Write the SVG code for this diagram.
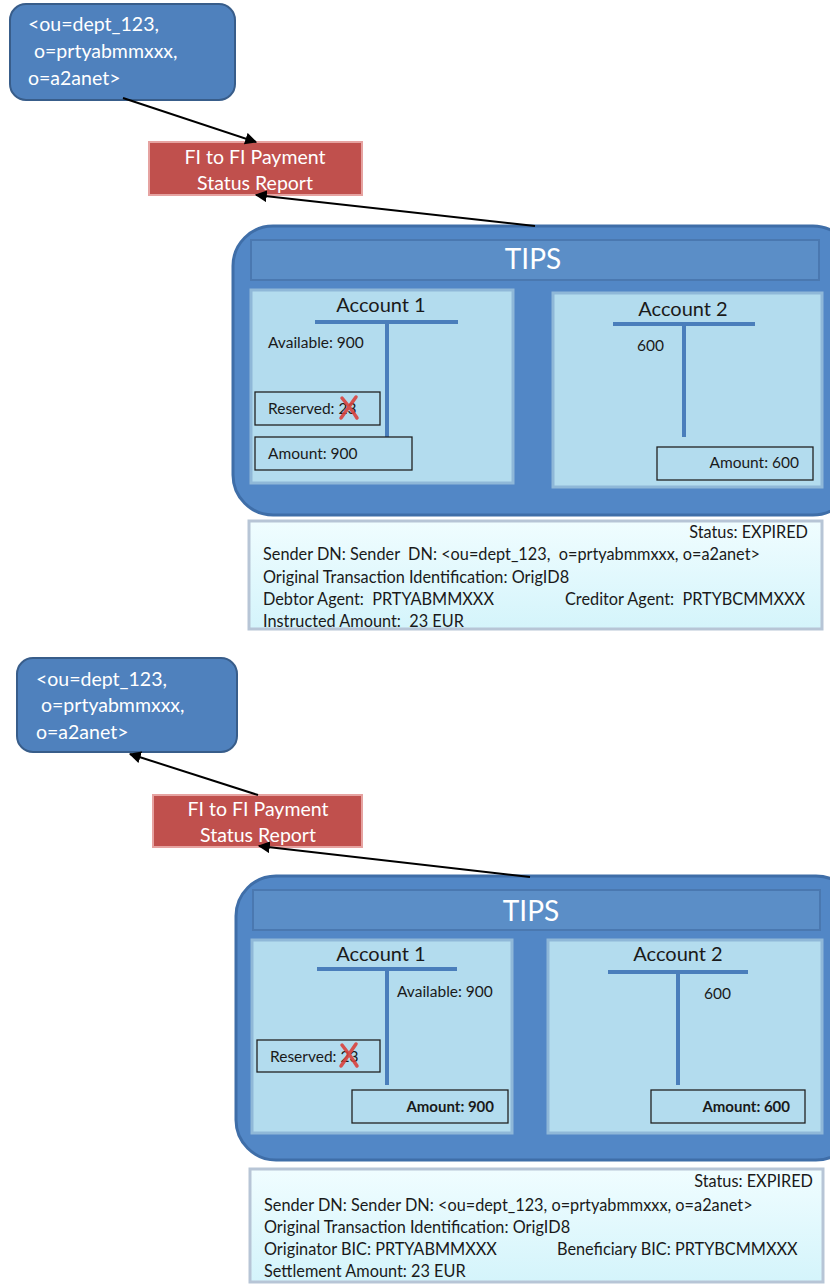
<svg xmlns="http://www.w3.org/2000/svg" width="830" height="1287" viewBox="0 0 830 1287">
<defs>
<style>
text{font-family:Lato,"Liberation Sans",sans-serif}
.dn{fill:#4f81bd;stroke:#385d8a;stroke-width:2}
.dnt{fill:#fff;font-size:19.5px}
.msg{fill:#c0504d;stroke:#e6a3a1;stroke-width:2}
.msgt{fill:#fff;font-size:19.5px;text-anchor:middle}
.tips{fill:#5287c6;stroke:#3f6ea8;stroke-width:3}
.hdr{fill:#5b8ec7;stroke:#4a78b0;stroke-width:2}
.tipst{fill:#fff;font-size:28px;text-anchor:middle}
.acc{fill:#b3dcee;stroke:#8fb8d8;stroke-width:3}
.acct{fill:#1a1a1a;font-size:20px;text-anchor:middle}
.tl{stroke:#4a7ebb;stroke-width:4;fill:none}
.sm{fill:#1a1a1a;font-size:15.5px}
.smb{fill:#1a1a1a;font-size:15px;font-weight:bold;text-anchor:end}
.bx{fill:none;stroke:#222;stroke-width:1.3}
.info{fill:url(#ig);stroke:#b7c5d6;stroke-width:3}
.it{fill:#1a1a1a;font-size:16.3px}
.x{stroke:#d9413c;stroke-width:3.5;fill:none;stroke-linecap:round;opacity:0.9}
.con{stroke:#000;stroke-width:2;fill:none;marker-end:url(#ah)}
</style>
<linearGradient id="ig" x1="0" y1="0" x2="0" y2="1">
<stop offset="0" stop-color="#f0fdff"/>
<stop offset="1" stop-color="#d4f4fb"/>
</linearGradient>
<marker id="ah" viewBox="0 0 10 10" refX="9" refY="5" markerWidth="6" markerHeight="6" orient="auto" markerUnits="strokeWidth">
<path d="M0,0 L10,5 L0,10 z" fill="#000"/>
</marker>
</defs>

<!-- ===== TOP SCENARIO ===== -->
<g id="dn1">
<rect class="dn" x="10" y="4" width="225" height="96" rx="16"/>
<text class="dnt" x="28" y="31">&lt;ou=dept_123,</text>
<text class="dnt" x="34" y="58">o=prtyabmmxxx,</text>
<text class="dnt" x="28" y="85">o=a2anet&gt;</text>
</g>

<g id="msg1">
<rect class="msg" x="149" y="142" width="213" height="53"/>
<text class="msgt" x="255" y="164">FI to FI Payment</text>
<text class="msgt" x="255" y="190">Status Report</text>
</g>

<g id="tips1">
<rect class="tips" x="233" y="226" width="620" height="289" rx="40"/>
<rect class="hdr" x="251" y="240" width="568" height="40"/>
<text class="tipst" x="533" y="269">TIPS</text>
</g>

<g id="acc1a">
<rect class="acc" x="251" y="290" width="262" height="193"/>
<text class="acct" x="381" y="312">Account 1</text>
<path class="tl" d="M315,322 H458 M387,322 V437"/>
<text class="sm" x="268" y="348">Available: 900</text>
<rect class="bx" x="255" y="392" width="125" height="33"/>
<text class="sm" x="268" y="414">Reserved: 23</text>
<path class="x" d="M342,398 C347,404 352,410 357,418 M356,397 C351,404 346,411 341,418"/>
<rect class="bx" x="255" y="437" width="157" height="33"/>
<text class="sm" x="268" y="459">Amount: 900</text>
</g>

<g id="acc2a">
<rect class="acc" x="553" y="293" width="269" height="194"/>
<text class="acct" x="683" y="316">Account 2</text>
<path class="tl" d="M613,324 H755 M684,324 V437"/>
<text class="sm" x="637" y="351">600</text>
<rect class="bx" x="657" y="447" width="156" height="33"/>
<text class="sm" x="799" y="468" text-anchor="end">Amount: 600</text>
</g>

<g id="info1">
<rect class="info" x="249" y="521" width="573" height="108"/>
<text class="it" x="808" y="538" text-anchor="end">Status: EXPIRED</text>
<text class="it" x="263" y="560" xml:space="preserve">Sender DN: Sender  DN: &lt;ou=dept_123,  o=prtyabmmxxx, o=a2anet&gt;</text>
<text class="it" x="263" y="583">Original Transaction Identification: OrigID8</text>
<text class="it" x="263" y="605" xml:space="preserve">Debtor Agent:  PRTYABMMXXX</text>
<text class="it" x="565" y="605" xml:space="preserve">Creditor Agent:  PRTYBCMMXXX</text>
<text class="it" x="263" y="627" xml:space="preserve">Instructed Amount:  23 EUR</text>
</g>

<!-- ===== BOTTOM SCENARIO ===== -->
<g id="dn2">
<rect class="dn" x="17" y="658" width="220" height="94" rx="16"/>
<text class="dnt" x="36" y="686">&lt;ou=dept_123,</text>
<text class="dnt" x="41" y="712">o=prtyabmmxxx,</text>
<text class="dnt" x="36" y="739">o=a2anet&gt;</text>
</g>

<g id="msg2">
<rect class="msg" x="153" y="795" width="209" height="52"/>
<text class="msgt" x="258" y="816">FI to FI Payment</text>
<text class="msgt" x="258" y="842">Status Report</text>
</g>

<g id="tips2">
<rect class="tips" x="236" y="876" width="620" height="284" rx="40"/>
<rect class="hdr" x="253" y="890" width="567" height="40"/>
<text class="tipst" x="531" y="921">TIPS</text>
</g>

<g id="acc1b">
<rect class="acc" x="252" y="940" width="260" height="193"/>
<text class="acct" x="381" y="961">Account 1</text>
<path class="tl" d="M317,969 H457 M387,969 V1085"/>
<text class="sm" x="397" y="997">Available: 900</text>
<rect class="bx" x="257" y="1040" width="123" height="32"/>
<text class="sm" x="270" y="1062">Reserved: 23</text>
<path class="x" d="M342,1045 C347,1051 352,1058 357,1066 M356,1044 C351,1051 346,1059 341,1066"/>
<rect class="bx" x="352" y="1090" width="156" height="33"/>
<text class="smb" x="494" y="1112">Amount: 900</text>
</g>

<g id="acc2b">
<rect class="acc" x="548" y="940" width="274" height="193"/>
<text class="acct" x="678" y="961">Account 2</text>
<path class="tl" d="M608,972 H748 M678,972 V1085"/>
<text class="sm" x="704" y="999">600</text>
<rect class="bx" x="651" y="1090" width="154" height="33"/>
<text class="smb" x="790" y="1112">Amount: 600</text>
</g>

<g id="info2">
<rect class="info" x="250" y="1169" width="573" height="113"/>
<text class="it" x="813" y="1187" text-anchor="end">Status: EXPIRED</text>
<text class="it" x="264" y="1211">Sender DN: Sender DN: &lt;ou=dept_123, o=prtyabmmxxx, o=a2anet&gt;</text>
<text class="it" x="264" y="1233">Original Transaction Identification: OrigID8</text>
<text class="it" x="264" y="1255">Originator BIC: PRTYABMMXXX</text>
<text class="it" x="557" y="1255">Beneficiary BIC: PRTYBCMMXXX</text>
<text class="it" x="264" y="1277">Settlement Amount: 23 EUR</text>
</g>

<g id="connectors">
<line class="con" x1="123" y1="98" x2="256" y2="142"/>
<line class="con" x1="535" y1="226" x2="256" y2="195"/>
<line class="con" x1="258" y1="795" x2="130" y2="754"/>
<line class="con" x1="530" y1="877" x2="259" y2="846"/>
</g>
</svg>
